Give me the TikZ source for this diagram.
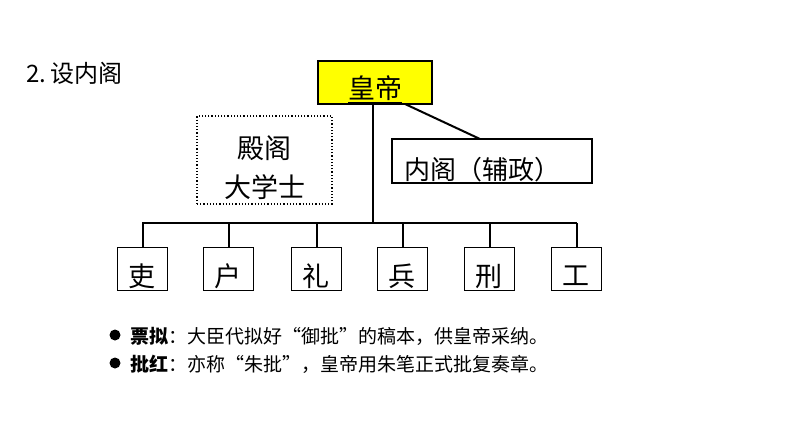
\documentclass[tikz,border=0pt]{standalone}
\usepackage{fontspec}
\setmainfont{Noto Sans CJK SC}
\definecolor{empyellow}{RGB}{255,255,0}
\begin{document}
\begin{tikzpicture}[x=1pt,y=-1pt,
  conn/.style={line width=2pt},
  deptbox/.style={draw,line width=1.3pt,minimum width=50pt,minimum height=43pt,anchor=north west,inner sep=0pt},
  bigtxt/.style={font=\fontsize{27}{30}\selectfont,inner sep=0pt},
  bultxt/.style={font=\fontsize{19}{22}\selectfont,anchor=west,inner sep=0pt}]
\useasboundingbox (0,0) rectangle (794,447);
% title
\node[font=\fontsize{24}{28}\selectfont,anchor=west,inner sep=0pt] (title) at (26,73) {2.\,设内阁};
% emperor
\node[draw,line width=1.3pt,fill=empyellow,minimum width=114pt,minimum height=43pt,inner sep=0pt] (emp) at (375,82.5) {};
\node[bigtxt] (emptxt) at (375,89) {\underline{皇帝}};
% dotted box
\node[draw,dotted,line width=1.2pt,minimum width=135pt,minimum height=88pt,inner sep=0pt] (dian) at (264.5,160) {};
\node[bigtxt] (diantxt1) at (264.5,148) {殿阁};
\node[bigtxt] (diantxt2) at (264.5,187) {大学士};
% neige
\node[draw,line width=1.3pt,minimum width=200pt,minimum height=44pt,inner sep=0pt] (neige) at (492,161) {};
\node[font=\fontsize{26}{30}\selectfont,inner sep=0pt,anchor=west] (neigetxt) at (404,170) {内阁（辅政）};
% connectors from emperor
\coordinate (empb) at (373,104);
\coordinate (hub) at (373,223);
\draw[conn] (empb) -- (hub);
\coordinate (empr) at (405,104);
\coordinate (neiget) at (480,139);
\draw[conn] (empr) -- (neiget);
% six departments
\foreach \n/\x/\t in {a/117/吏,b/203/户,c/291/礼,d/377/兵,e/464/刑,f/551/工}{
  \node[deptbox] (\n) at (\x,247) {};
  \pgfmathsetmacro{\cx}{\x+25}
  \node[bigtxt] (\n txt) at (\cx,276) {\t};
}
\coordinate (hl) at (142,223);
\coordinate (hr) at (577,223);
\draw[conn] (hl) -- (hr);
\foreach \n in {a,b,c,d,e,f}{
  \draw[conn] (\n.north |- hl) -- (\n.north);
}
% bullets
\fill (115,335) circle (5.5pt);
\fill (115,363) circle (5.5pt);
\node[bultxt] (b1) at (130,336) {\textbf{票拟}：大臣代拟好“御批”的稿本，供皇帝采纳。};
\node[bultxt] (b2) at (130,364) {\textbf{批红}：亦称“朱批”，皇帝用朱笔正式批复奏章。};
\end{tikzpicture}
\end{document}
